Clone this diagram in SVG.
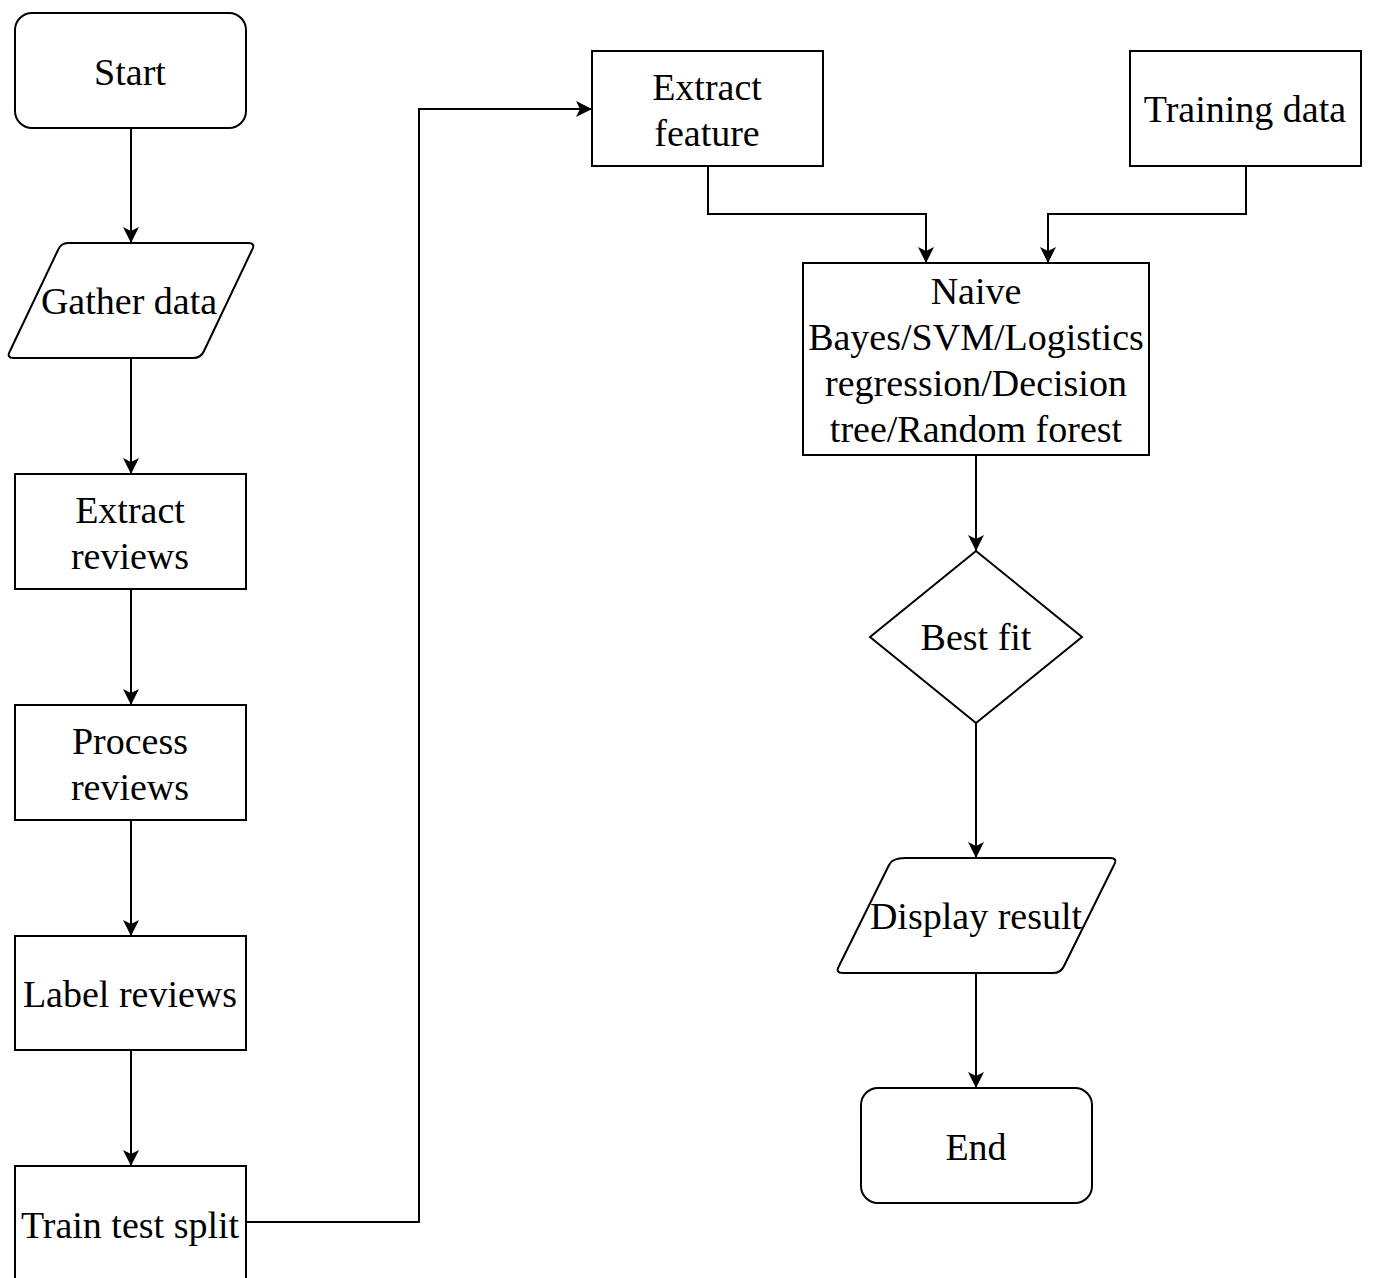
<svg xmlns="http://www.w3.org/2000/svg" width="1373" height="1278" viewBox="0 0 1373 1278">
<defs>
<marker id="arr" markerUnits="userSpaceOnUse" markerWidth="18" markerHeight="18" refX="16" refY="9" orient="auto">
<path d="M0,1 L16,9 L0,17 L4,9 z" fill="#000"/>
</marker>
<style>
.n{fill:#fff;stroke:#000;stroke-width:2}
.t{font-family:"Liberation Serif","Times New Roman",serif;font-size:38px;fill:#000;text-anchor:middle}
.c{fill:none;stroke:#000;stroke-width:2;marker-end:url(#arr)}
</style>
</defs>
<rect width="1373" height="1278" fill="#fff"/>
<g id="connectors">
<path class="c" d="M131,128 V243"/>
<path class="c" d="M131,358 V474"/>
<path class="c" d="M131,589 V705"/>
<path class="c" d="M131,820 V936"/>
<path class="c" d="M131,1050 V1166"/>
<path class="c" d="M246,1222 H419 V109 H592"/>
<path class="c" d="M708,166 V214 H926 V263"/>
<path class="c" d="M1246,166 V214 H1048 V263"/>
<path class="c" d="M976,455 V551"/>
<path class="c" d="M976,723 V858"/>
<path class="c" d="M976,973 V1088"/>
</g>
<g id="start">
<rect class="n" x="15" y="13" width="231" height="115" rx="17"/>
<text class="t" x="130" y="85">Start</text>
</g>
<g id="gather">
<path class="n" d="M68,243 H248 Q256,243 252,250 L204,351 Q201,358 193,358 H14 Q6,358 10,351 L58,250 Q61,243 68,243 Z"/>
<text class="t" x="129" y="314">Gather data</text>
</g>
<g id="extract-reviews">
<rect class="n" x="15" y="474" width="231" height="115"/>
<text class="t" x="130" y="523">Extract</text>
<text class="t" x="130" y="569">reviews</text>
</g>
<g id="process-reviews">
<rect class="n" x="15" y="705" width="231" height="115"/>
<text class="t" x="130" y="754">Process</text>
<text class="t" x="130" y="800">reviews</text>
</g>
<g id="label-reviews">
<rect class="n" x="15" y="936" width="231" height="114"/>
<text class="t" x="130" y="1007">Label reviews</text>
</g>
<g id="train-test-split">
<rect class="n" x="15" y="1166" width="231" height="130"/>
<text class="t" x="130" y="1238">Train test split</text>
</g>
<g id="extract-feature">
<rect class="n" x="592" y="51" width="231" height="115"/>
<text class="t" x="707" y="100">Extract</text>
<text class="t" x="707" y="146">feature</text>
</g>
<g id="training-data">
<rect class="n" x="1130" y="51" width="231" height="115"/>
<text class="t" x="1245" y="122">Training data</text>
</g>
<g id="classifiers">
<rect class="n" x="803" y="263" width="346" height="192"/>
<text class="t" x="976" y="304">Naive</text>
<text class="t" x="976" y="350">Bayes/SVM/Logistics</text>
<text class="t" x="976" y="396">regression/Decision</text>
<text class="t" x="976" y="442">tree/Random forest</text>
</g>
<g id="best-fit">
<path class="n" d="M976,551 L1082,637 L976,723 L870,637 Z"/>
<text class="t" x="976" y="650">Best fit</text>
</g>
<g id="display-result">
<path class="n" d="M905,858 H1110 Q1118,858 1114,865 L1064,966 Q1061,973 1053,973 H843 Q835,973 839,966 L889,865 Q892,858 905,858 Z"/>
<text class="t" x="976" y="929">Display result</text>
</g>
<g id="end">
<rect class="n" x="861" y="1088" width="231" height="115" rx="17"/>
<text class="t" x="976" y="1160">End</text>
</g>
</svg>
